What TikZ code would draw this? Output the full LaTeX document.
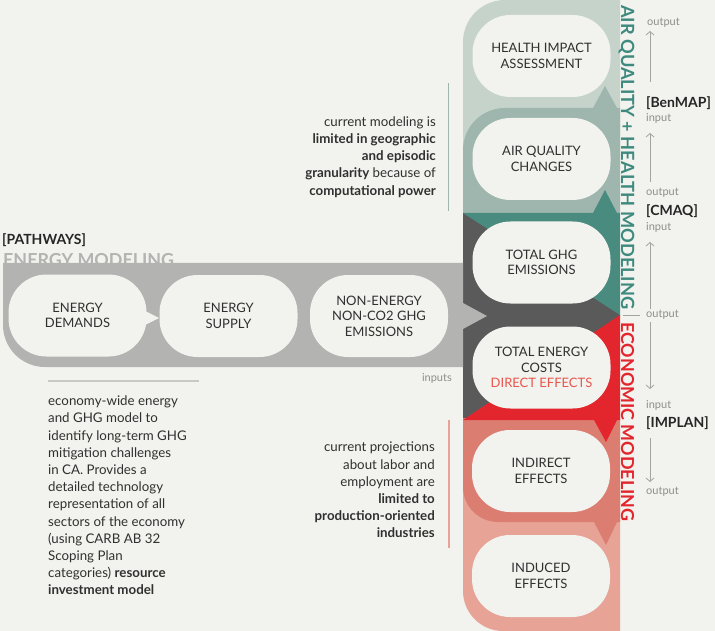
\documentclass[tikz,border=0pt]{standalone}
\usepackage{fontspec}
\setmainfont{Lato}
\usetikzlibrary{arrows.meta}
\definecolor{bgc}{HTML}{F2F2EE}
\definecolor{sageA}{HTML}{C5D3CB}
\definecolor{sageB}{HTML}{9EB6AE}
\definecolor{tealc}{HTML}{4A8B80}
\definecolor{darkc}{HTML}{5A5A5A}
\definecolor{redc}{HTML}{E3262D}
\definecolor{pinkA}{HTML}{DC7D71}
\definecolor{pinkB}{HTML}{E7A395}
\definecolor{greyband}{HTML}{B3B3B1}
\definecolor{titleteal}{HTML}{3E8A7E}
\definecolor{labgrey}{HTML}{8E8E8E}
\definecolor{arrgrey}{HTML}{A3A3A3}
\definecolor{txtdark}{HTML}{303030}
\definecolor{directred}{HTML}{E8574D}
\definecolor{rulegrey}{HTML}{C8C8C6}
\tikzset{
  pill/.style={fill=bgc, rounded corners=38pt, minimum width=138pt, minimum height=82pt,
    inner sep=0pt, align=center, text=txtdark, font=\fontsize{13}{15.5}\selectfont},
  body/.style={inner sep=0pt, text=txtdark, font=\fontsize{13.3}{17.2}\selectfont},
  lab/.style={inner sep=0pt, anchor=west, text=labgrey, font=\fontsize{11}{13}\selectfont},
  tag/.style={inner sep=0pt, anchor=west, text=black!85, font=\fontsize{14}{16}\selectfont\bfseries},
  vtitle/.style={inner sep=0pt, rotate=-90, anchor=base west},
  flow/.style={draw=arrgrey, line width=0.8pt, -{Straight Barb[length=3.5pt,width=8pt]}}
}
\begin{document}
\begin{tikzpicture}[x=1pt,y=-1pt]
\fill[bgc] (0,0) rectangle (715,631);
\useasboundingbox (0,0) rectangle (715,631);

% right column bands
\fill[sageA] (463,160) -- (463,42) .. controls (463,18.8) and (481.8,0) .. (505,0) -- (620,0) -- (620,160) -- cycle;
\fill[sageB] (463,213) -- (463,150) .. controls (463,126.8) and (481.8,108) .. (505,108) -- (593,108) -- (605,86) -- (617,108) -- (620,108) -- (620,213) -- cycle;
\fill[darkc] (463,213) rectangle (620,420);
\fill[tealc] (463,213) -- (593,213) -- (605,190) -- (617,213) -- (620,213) -- (620,315) -- cycle;
\fill[pinkB] (463,480) -- (463,591) .. controls (463,613) and (481,631) .. (503,631) -- (620,631) -- (620,480) -- cycle;
\fill[pinkA] (463,418) -- (463,487) .. controls (463,506.3) and (478.7,522) .. (498,522) -- (594,522) -- (606,545) -- (617,522) -- (620,522) -- (620,418) -- cycle;
\fill[redc] (620,315) -- (620,420) -- (617,420) -- (606,442) -- (594,420) -- (463,420) -- cycle;

% left grey band
\fill[greyband] (3,263) -- (463,263) -- (463,303) -- (487,316) -- (463,329) -- (463,367) -- (45,367) .. controls (21.8,367) and (3,348.2) .. (3,325) -- cycle;
\node[inner sep=0pt, anchor=base west, text=greyband, font=\fontsize{17.9}{20}\selectfont\bfseries] (emod) at (3,266) {ENERGY MODELING};
\node[inner sep=0pt, anchor=west, text=black!85, font=\fontsize{14}{16}\selectfont\bfseries] (pathw) at (2,240) {[PATHWAYS]};

% pills, left
\fill[bgc] (143,310) -- (159,318) -- (143,326) -- cycle;
\node[pill] (dem) at (77.5,315.5) {ENERGY\\DEMANDS};
\node[pill] (sup) at (228.5,316) {ENERGY\\SUPPLY};
\node[pill] (non) at (379,316) {NON-ENERGY\\NON-CO2 GHG\\EMISSIONS};

% pills, right
\node[pill] (hia) at (541.5,56) {HEALTH IMPACT\\ASSESSMENT};
\node[pill] (aqc) at (541.5,159) {AIR QUALITY\\CHANGES};
\node[pill] (ghg) at (541.5,262.5) {TOTAL GHG\\EMISSIONS};
\node[pill] (tec) at (541.5,367.5) {TOTAL ENERGY\\COSTS\\\textcolor{directred}{DIRECT EFFECTS}};
\node[pill] (ind) at (541,471) {INDIRECT\\EFFECTS};
\node[pill] (inu) at (541,576) {INDUCED\\EFFECTS};

% vertical titles
\node[vtitle, text=titleteal, font=\fontsize{18.2}{20}\selectfont\bfseries] (aqt) at (621,5) {AIR QUALITY + HEALTH MODELING};
\node[vtitle, text=redc, font=\fontsize{17.9}{20}\selectfont\bfseries] (ect) at (621,322) {ECONOMIC MODELING};

% side rules
\draw[sageB, line width=1.2pt] (448.5,83) -- (448.5,211);
\draw[pinkB, line width=1.2pt] (449,420) -- (449,548);
\draw[rulegrey, line width=1.2pt] (48,381) -- (199,381);

% body texts
\node[body, anchor=east, align=right] (cmt) at (436,157) {current modeling is\\\textbf{limited in geographic}\\\textbf{and episodic}\\\textbf{granularity} because of\\\textbf{computational power}};
\node[body, anchor=west, align=left] (ecot) at (48,495.5) {economy-wide energy\\and GHG model to\\identify long-term GHG\\mitigation challenges\\in CA. Provides a\\detailed technology\\representation of all\\sectors of the economy\\(using CARB AB 32\\Scoping Plan\\categories) \textbf{resource}\\\textbf{investment model}};
\node[body, anchor=east, align=right] (prt) at (435,490) {current projections\\about labor and\\employment are\\\textbf{limited to}\\\textbf{production-oriented}\\\textbf{industries}};
\node[lab, anchor=east] (inps) at (452,378) {inputs};

% right labels
\node[lab] (o1) at (647,23) {output};
\node[tag] (benmap) at (646,103) {[BenMAP]};
\node[lab] (i1) at (646,118) {input};
\node[lab] (o2) at (646,193) {output};
\node[tag] (cmaq) at (646,211) {[CMAQ]};
\node[lab] (i2) at (646,227) {input};
\node[lab] (o3) at (646,315) {output};
\node[lab] (i3) at (646,405) {input};
\node[tag] (implan) at (646,423) {[IMPLAN]};
\node[lab] (o4) at (646,492) {output};

\coordinate (a1s) at (650,82); \coordinate (a1e) at (650,31);
\coordinate (a2s) at (650,182); \coordinate (a2e) at (650,133);
\coordinate (a3s) at (650,309); \coordinate (a3e) at (650,242);
\coordinate (a4s) at (650,322); \coordinate (a4e) at (650,389);
\coordinate (a5s) at (650,438); \coordinate (a5e) at (650,482);
\coordinate (t1) at (623,315); \coordinate (t2) at (640,315);
\draw[flow] (a1s) -- (a1e);
\draw[flow] (a2s) -- (a2e);
\draw[flow] (a3s) -- (a3e);
\draw[flow] (a4s) -- (a4e);
\draw[flow] (a5s) -- (a5e);
\draw[arrgrey, line width=0.8pt] (t1) -- (t2);
\end{tikzpicture}
\end{document}
